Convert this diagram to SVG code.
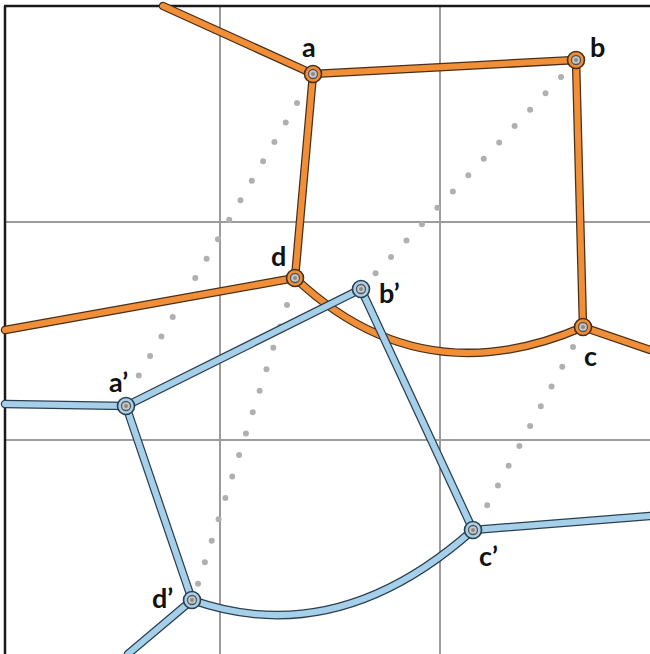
<svg xmlns="http://www.w3.org/2000/svg" width="650" height="654" viewBox="0 0 650 654">
<defs>
<style>
.grid{stroke:#9c9c9c;stroke-width:2;fill:none}
.dots{stroke:#b0b0b0;stroke-width:6;stroke-linecap:round;stroke-dasharray:0 22.5;fill:none}
.oo{stroke:#4a2e18;stroke-width:8.5;fill:none;stroke-linecap:round}
.oi{stroke:#f08f38;stroke-width:6;fill:none;stroke-linecap:round}
.bo{stroke:#2b3f50;stroke-width:8.5;fill:none;stroke-linecap:round}
.bi{stroke:#a6d0ea;stroke-width:6;fill:none;stroke-linecap:round}
.on{fill:#f08f38;stroke:#4a2e18;stroke-width:1.6}
.bn{fill:#a6d0ea;stroke:#2b3f50;stroke-width:1.6}
.core{fill:#c8c8c8;stroke:#555;stroke-width:1.3}
.ctr{fill:#8a8a8a}
.lbl{font-family:Lato,"Open Sans",sans-serif;font-weight:700;font-size:27px;fill:#111}
</style>
</defs>
<rect width="650" height="654" fill="#fff"/>
<g id="grid">
<line class="grid" x1="220" y1="6" x2="220" y2="654"/>
<line class="grid" x1="440" y1="6" x2="440" y2="654"/>
<line class="grid" x1="5" y1="222" x2="650" y2="222"/>
<line class="grid" x1="5" y1="440" x2="650" y2="440"/>
</g>
<g id="frame" stroke="#1a1a1a" stroke-width="2.5" fill="none">
<line x1="4" y1="6" x2="650" y2="6"/>
<line x1="5" y1="6" x2="5" y2="654"/>
</g>
<g id="guides">
<line class="dots" x1="297" y1="103" x2="128" y2="394"/>
<line class="dots" x1="561" y1="77" x2="373" y2="276"/>
<line class="dots" x1="573" y1="347" x2="483" y2="513"/>
<line class="dots" x1="287" y1="305" x2="196" y2="590"/>
</g>
<g id="connectors">
<g id="orange-edges">
<path class="oo" d="M163,6 L313,74 L576,60 L583,327 L650,350 M313,74 L295,278 L5,330 M295,278 Q421,397 583,327"/>
<path class="oi" d="M163,6 L313,74 L576,60 L583,327 L650,350 M313,74 L295,278 L5,330 M295,278 Q421,397 583,327"/>
</g>
<g id="blue-edges">
<path class="bo" d="M5,404 L126,406 L361,289 L473,530 L650,516 M126,406 L192,600 L128,654 M192,600 Q337,651 473,530"/>
<path class="bi" d="M5,404 L126,406 L361,289 L473,530 L650,516 M126,406 L192,600 L128,654 M192,600 Q337,651 473,530"/>
</g>
</g>
<g id="node-a"><circle class="on" cx="313" cy="74" r="8.5"/><circle class="core" cx="313" cy="74" r="4.5"/><circle class="ctr" cx="313" cy="74" r="2"/><text class="lbl" x="302" y="57">a</text></g>
<g id="node-b"><circle class="on" cx="576" cy="60" r="8.5"/><circle class="core" cx="576" cy="60" r="4.5"/><circle class="ctr" cx="576" cy="60" r="2"/><text class="lbl" x="590" y="57">b</text></g>
<g id="node-c"><circle class="on" cx="583" cy="327" r="8.5"/><circle class="core" cx="583" cy="327" r="4.5"/><circle class="ctr" cx="583" cy="327" r="2"/><text class="lbl" x="584" y="366">c</text></g>
<g id="node-d"><circle class="on" cx="295" cy="278" r="8.5"/><circle class="core" cx="295" cy="278" r="4.5"/><circle class="ctr" cx="295" cy="278" r="2"/><text class="lbl" x="271" y="266">d</text></g>
<g id="node-a2"><circle class="bn" cx="126" cy="406" r="8.5"/><circle class="core" cx="126" cy="406" r="4.5"/><circle class="ctr" cx="126" cy="406" r="2"/><text class="lbl" x="109" y="392">a’</text></g>
<g id="node-b2"><circle class="bn" cx="361" cy="289" r="8.5"/><circle class="core" cx="361" cy="289" r="4.5"/><circle class="ctr" cx="361" cy="289" r="2"/><text class="lbl" x="379" y="303">b’</text></g>
<g id="node-c2"><circle class="bn" cx="473" cy="530" r="8.5"/><circle class="core" cx="473" cy="530" r="4.5"/><circle class="ctr" cx="473" cy="530" r="2"/><text class="lbl" x="479" y="566">c’</text></g>
<g id="node-d2"><circle class="bn" cx="192" cy="600" r="8.5"/><circle class="core" cx="192" cy="600" r="4.5"/><circle class="ctr" cx="192" cy="600" r="2"/><text class="lbl" x="152" y="608">d’</text></g>
</svg>
